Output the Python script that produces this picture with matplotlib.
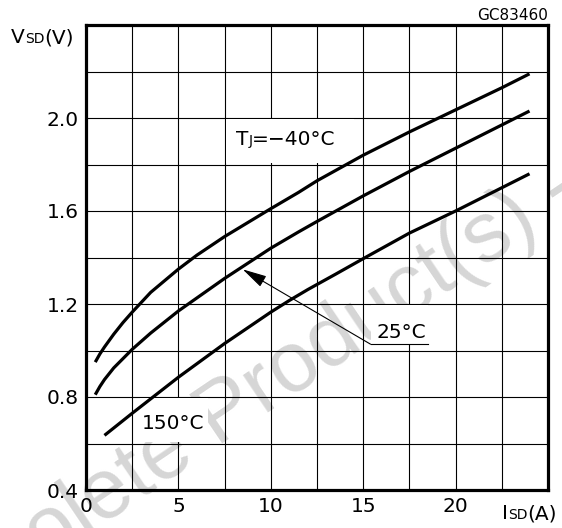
import matplotlib
matplotlib.use("Agg")
import matplotlib.pyplot as plt
import numpy as np
from matplotlib.patches import Rectangle

# data (Isd in A, Vsd in V)
isd_m40 = [0.5, 0.75, 1.0, 1.5, 2.0, 2.5, 3.5, 5, 6, 7.5, 10, 11.5, 12.5, 15, 17.5, 20, 22.5, 24]
vsd_m40 = [0.95, 0.985, 1.015, 1.07, 1.12, 1.165, 1.25, 1.35, 1.41, 1.49, 1.61, 1.68, 1.73,
           1.84, 1.94, 2.035, 2.13, 2.19]

isd_25 = [0.5, 0.75, 1.0, 1.5, 2.0, 2.5, 3.5, 5, 7.5, 10, 11.5, 12.5, 15, 17.5, 20, 22.5, 24]
vsd_25 = [0.81, 0.845, 0.875, 0.925, 0.965, 1.005, 1.075, 1.17, 1.31, 1.44, 1.51, 1.555,
          1.665, 1.77, 1.87, 1.97, 2.03]

isd_150 = [1.0, 2.5, 5, 7.5, 10, 11, 12, 13.5, 15, 17.5, 20, 22.5, 24]
vsd_150 = [0.635, 0.73, 0.885, 1.03, 1.165, 1.215, 1.262, 1.328, 1.395, 1.505, 1.60, 1.70, 1.76]

x_grid = np.arange(0, 25.01, 2.5)
y_grid = np.arange(0.4, 2.41, 0.2)
x_labels = ["0", "", "5", "", "10", "", "15", "", "20", "", ""]
y_labels = ["0.4", "", "0.8", "", "1.2", "", "1.6", "", "2.0", "", ""]

W, H = 562, 528
FS = 14.5

fig = plt.figure(figsize=(W / 100, H / 100), dpi=100)
fig.patch.set_facecolor("white")
ax = fig.add_axes([86 / W, 38 / H, 462 / W, 465 / H])
ax.set_facecolor("none")

# watermark behind everything
wm = dict(fontsize=61, color="#d6d6d6", family="Liberation Sans", rotation=34,
          rotation_mode="anchor", va="baseline", zorder=-5)
fig.text(217 / W, 1 - 447 / H, "Obsolete ", ha="right", **wm)
fig.text(217 / W, 1 - 447 / H, "Product(s) - Obsolete", ha="left", **wm)

ax.set_xlim(0, 25)
ax.set_ylim(0.4, 2.4)
ax.set_xticks(x_grid)
ax.set_xticklabels(x_labels)
ax.set_yticks(y_grid)
ax.set_yticklabels(y_labels)
ax.tick_params(length=0, labelsize=FS, pad=5)
ax.grid(True, color="black", lw=0.8)
ax.set_axisbelow(True)
for s in ax.spines.values():
    s.set_linewidth(2.3)
    s.set_zorder(5)

# white patches where the labels sit
for x0, y0, w, h in [(7.6, 1.805, 6.9, 0.19), (2.9, 0.605, 3.7, 0.19), (15.4, 1.03, 3.1, 0.165)]:
    ax.add_patch(Rectangle((x0, y0), w, h, facecolor="white", edgecolor="none", zorder=1))

for xs, ys in [(isd_m40, vsd_m40), (isd_25, vsd_25), (isd_150, vsd_150)]:
    ax.plot(xs, ys, color="black", lw=2.3, solid_capstyle="butt", solid_joinstyle="round", zorder=3)

# leader for 25°C
ax.annotate("", xy=(8.48, 1.349), xytext=(15.4, 1.027),
            arrowprops=dict(arrowstyle="-|>,head_length=1.0,head_width=0.25",
                            lw=0.8, color="black", mutation_scale=15, shrinkA=0, shrinkB=0),
            zorder=4)
ax.plot([15.4, 18.5], [1.027, 1.027], color="black", lw=0.8, zorder=4)

renderer = fig.canvas.get_renderer()


def chain(px, py, parts):
    # text pieces on one baseline, pixel coords from bottom-left
    for s, fs in parts:
        t = fig.text(px / W, py / H, s, fontsize=fs, va="baseline", ha="left", zorder=6)
        px = t.get_window_extent(renderer).x1


chain(236, H - 145, [("T", FS), ("J", 10), ("=\u221240\u00b0C", FS)])
ax.text(3.0, 0.662, "150\u00b0C", fontsize=FS, va="baseline", zorder=6)
ax.text(15.73, 1.052, "25\u00b0C", fontsize=FS, va="baseline", zorder=6)

chain(11, H - 43, [("V", FS), ("SD", 10), ("(V)", FS)])
chain(502, H - 519, [("I", FS), ("SD", 10), ("(A)", FS)])
fig.text(548 / W, 1 - 20 / H, "GC83460", fontsize=11, ha="right", va="baseline")

fig.savefig("out.png", dpi=100)
